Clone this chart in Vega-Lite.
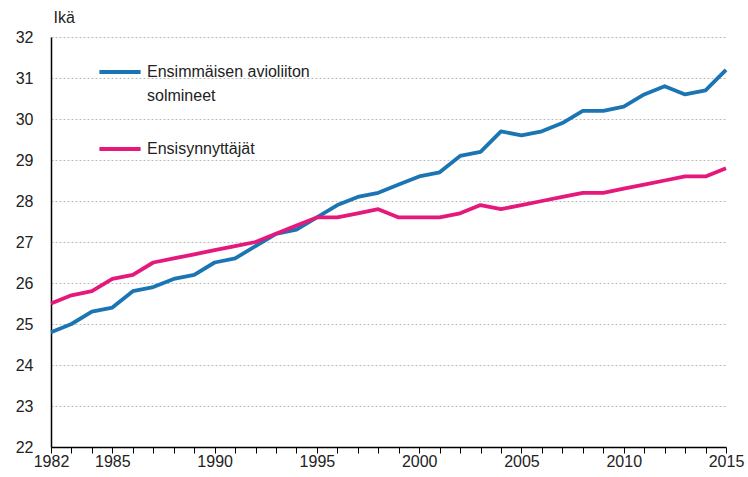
{
  "$schema": "https://vega.github.io/schema/vega-lite/v6.json",
  "width": 675,
  "height": 410,
  "autosize": {"type": "none"},
  "padding": {"left": 51, "top": 37, "right": 22, "bottom": 30},
  "background": "white",
  "config": {
    "view": {"stroke": null},
    "font": "Liberation Sans",
    "axis": {"labelFont": "Liberation Sans", "labelFontSize": 16, "labelColor": "#222", "titleFont": "Liberation Sans"}
  },
  "data": {
    "values": [
      {"year": 1982, "s": "Ensimmäisen avioliiton solmineet", "v": 24.8},
      {"year": 1983, "s": "Ensimmäisen avioliiton solmineet", "v": 25.0},
      {"year": 1984, "s": "Ensimmäisen avioliiton solmineet", "v": 25.3},
      {"year": 1985, "s": "Ensimmäisen avioliiton solmineet", "v": 25.4},
      {"year": 1986, "s": "Ensimmäisen avioliiton solmineet", "v": 25.8},
      {"year": 1987, "s": "Ensimmäisen avioliiton solmineet", "v": 25.9},
      {"year": 1988, "s": "Ensimmäisen avioliiton solmineet", "v": 26.1},
      {"year": 1989, "s": "Ensimmäisen avioliiton solmineet", "v": 26.2},
      {"year": 1990, "s": "Ensimmäisen avioliiton solmineet", "v": 26.5},
      {"year": 1991, "s": "Ensimmäisen avioliiton solmineet", "v": 26.6},
      {"year": 1992, "s": "Ensimmäisen avioliiton solmineet", "v": 26.9},
      {"year": 1993, "s": "Ensimmäisen avioliiton solmineet", "v": 27.2},
      {"year": 1994, "s": "Ensimmäisen avioliiton solmineet", "v": 27.3},
      {"year": 1995, "s": "Ensimmäisen avioliiton solmineet", "v": 27.6},
      {"year": 1996, "s": "Ensimmäisen avioliiton solmineet", "v": 27.9},
      {"year": 1997, "s": "Ensimmäisen avioliiton solmineet", "v": 28.1},
      {"year": 1998, "s": "Ensimmäisen avioliiton solmineet", "v": 28.2},
      {"year": 1999, "s": "Ensimmäisen avioliiton solmineet", "v": 28.4},
      {"year": 2000, "s": "Ensimmäisen avioliiton solmineet", "v": 28.6},
      {"year": 2001, "s": "Ensimmäisen avioliiton solmineet", "v": 28.7},
      {"year": 2002, "s": "Ensimmäisen avioliiton solmineet", "v": 29.1},
      {"year": 2003, "s": "Ensimmäisen avioliiton solmineet", "v": 29.2},
      {"year": 2004, "s": "Ensimmäisen avioliiton solmineet", "v": 29.7},
      {"year": 2005, "s": "Ensimmäisen avioliiton solmineet", "v": 29.6},
      {"year": 2006, "s": "Ensimmäisen avioliiton solmineet", "v": 29.7},
      {"year": 2007, "s": "Ensimmäisen avioliiton solmineet", "v": 29.9},
      {"year": 2008, "s": "Ensimmäisen avioliiton solmineet", "v": 30.2},
      {"year": 2009, "s": "Ensimmäisen avioliiton solmineet", "v": 30.2},
      {"year": 2010, "s": "Ensimmäisen avioliiton solmineet", "v": 30.3},
      {"year": 2011, "s": "Ensimmäisen avioliiton solmineet", "v": 30.6},
      {"year": 2012, "s": "Ensimmäisen avioliiton solmineet", "v": 30.8},
      {"year": 2013, "s": "Ensimmäisen avioliiton solmineet", "v": 30.6},
      {"year": 2014, "s": "Ensimmäisen avioliiton solmineet", "v": 30.7},
      {"year": 2015, "s": "Ensimmäisen avioliiton solmineet", "v": 31.2},
      {"year": 1982, "s": "Ensisynnyttäjät", "v": 25.5},
      {"year": 1983, "s": "Ensisynnyttäjät", "v": 25.7},
      {"year": 1984, "s": "Ensisynnyttäjät", "v": 25.8},
      {"year": 1985, "s": "Ensisynnyttäjät", "v": 26.1},
      {"year": 1986, "s": "Ensisynnyttäjät", "v": 26.2},
      {"year": 1987, "s": "Ensisynnyttäjät", "v": 26.5},
      {"year": 1988, "s": "Ensisynnyttäjät", "v": 26.6},
      {"year": 1989, "s": "Ensisynnyttäjät", "v": 26.7},
      {"year": 1990, "s": "Ensisynnyttäjät", "v": 26.8},
      {"year": 1991, "s": "Ensisynnyttäjät", "v": 26.9},
      {"year": 1992, "s": "Ensisynnyttäjät", "v": 27.0},
      {"year": 1993, "s": "Ensisynnyttäjät", "v": 27.2},
      {"year": 1994, "s": "Ensisynnyttäjät", "v": 27.4},
      {"year": 1995, "s": "Ensisynnyttäjät", "v": 27.6},
      {"year": 1996, "s": "Ensisynnyttäjät", "v": 27.6},
      {"year": 1997, "s": "Ensisynnyttäjät", "v": 27.7},
      {"year": 1998, "s": "Ensisynnyttäjät", "v": 27.8},
      {"year": 1999, "s": "Ensisynnyttäjät", "v": 27.6},
      {"year": 2000, "s": "Ensisynnyttäjät", "v": 27.6},
      {"year": 2001, "s": "Ensisynnyttäjät", "v": 27.6},
      {"year": 2002, "s": "Ensisynnyttäjät", "v": 27.7},
      {"year": 2003, "s": "Ensisynnyttäjät", "v": 27.9},
      {"year": 2004, "s": "Ensisynnyttäjät", "v": 27.8},
      {"year": 2005, "s": "Ensisynnyttäjät", "v": 27.9},
      {"year": 2006, "s": "Ensisynnyttäjät", "v": 28.0},
      {"year": 2007, "s": "Ensisynnyttäjät", "v": 28.1},
      {"year": 2008, "s": "Ensisynnyttäjät", "v": 28.2},
      {"year": 2009, "s": "Ensisynnyttäjät", "v": 28.2},
      {"year": 2010, "s": "Ensisynnyttäjät", "v": 28.3},
      {"year": 2011, "s": "Ensisynnyttäjät", "v": 28.4},
      {"year": 2012, "s": "Ensisynnyttäjät", "v": 28.5},
      {"year": 2013, "s": "Ensisynnyttäjät", "v": 28.6},
      {"year": 2014, "s": "Ensisynnyttäjät", "v": 28.6},
      {"year": 2015, "s": "Ensisynnyttäjät", "v": 28.8}
    ]
  },
  "mark": {"type": "line", "strokeWidth": 3.8, "strokeJoin": "round"},
  "encoding": {
    "x": {
      "field": "year",
      "type": "quantitative",
      "scale": {"domain": [1982, 2015], "nice": false, "zero": false},
      "axis": {
        "title": null,
        "grid": false,
        "values": [1982,1983,1984,1985,1986,1987,1988,1989,1990,1991,1992,1993,1994,1995,1996,1997,1998,1999,2000,2001,2002,2003,2004,2005,2006,2007,2008,2009,2010,2011,2012,2013,2014,2015],
        "labelExpr": "indexof([1982,1985,1990,1995,2000,2005,2010,2015], datum.value) >= 0 ? datum.label : ''",
        "format": "d",
        "domainColor": "#000",
        "domainWidth": 1.5,
        "tickColor": "#000",
        "tickSize": 6,
        "labelPadding": 0,
        "labelOverlap": false,
        "labelFlush": false
      }
    },
    "y": {
      "field": "v",
      "type": "quantitative",
      "scale": {"domain": [22, 32], "nice": false, "zero": false},
      "axis": {
        "title": "Ikä",
        "titleAngle": 0,
        "titleAlign": "left",
        "titleBaseline": "middle",
        "titleX": 2,
        "titleY": -20,
        "titleFontSize": 16,
        "titleFontWeight": "normal",
        "titleColor": "#222",
        "values": [22,23,24,25,26,27,28,29,30,31,32],
        "ticks": false,
        "labelPadding": 18,
        "domainColor": "#000",
        "domainWidth": 1.5,
        "gridColor": "#bbbbbb",
        "gridDash": [2, 2],
        "gridWidth": 1
      }
    },
    "color": {
      "field": "s",
      "type": "nominal",
      "scale": {"domain": ["Ensimmäisen avioliiton solmineet", "Ensisynnyttäjät"], "range": ["#1b75b3", "#e4197b"]},
      "legend": {
        "title": null,
        "orient": "none",
        "legendX": 46,
        "legendY": 12,
        "symbolType": "stroke",
        "symbolStrokeWidth": 3.8,
        "symbolSize": 1700,
        "labelFontSize": 16,
        "labelColor": "#222",
        "labelLimit": 400,
        "labelOffset": 4,
        "rowPadding": 22,
        "labelExpr": "datum.label == 'Ensimmäisen avioliiton solmineet' ? ['Ensimmäisen avioliiton', 'solmineet'] : datum.label",
        "encode": {"labels": {"update": {"lineHeight": {"value": 24}}}}
      }
    }
  }
}
